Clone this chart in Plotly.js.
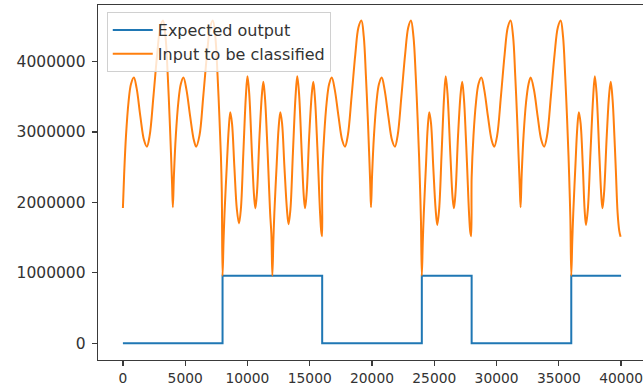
<!DOCTYPE html>
<html>
<head>
<meta charset="utf-8">
<script src="https://cdn.plot.ly/plotly-3.0.1.min.js"></script>
<style>
html, body { margin: 0; padding: 0; overflow: hidden; background: #fff; }
#chart { width: 660px; height: 388px; }
</style>
</head>
<body>
<div id="chart"></div>
<script>
// Expected output (step signal)
const stepX = [0, 8000, 16000, 24000, 28000, 36000, 40000];
const stepY = [0, 960000, 0, 960000, 0, 960000, 960000];

// Input to be classified
const inputX = [
  0,100,250,450,650,880,1100,1400,1700,1925,2150,2450,2750,3000,3220,3420,3600,3750,3870,3950,4010,
  4100,4250,4450,4650,4860,5100,5400,5700,5880,6150,6450,6750,7000,7220,7420,7600,7750,7870,7940,8000,
  8080,8160,8350,8500,8620,8760,8950,9150,9320,9470,9670,9870,10000,10140,10370,10540,10640,10770,10970,11170,11280,11420,11560,11680,11820,11920,12000,
  12080,12160,12350,12500,12640,12780,12970,13170,13300,13450,13650,13860,14000,14140,14370,14530,14630,14760,14960,15170,15290,15430,15570,15690,15830,15930,15990,
  16000,16160,16360,16560,16770,17010,17310,17610,17830,18060,18360,18660,18910,19150,19340,19510,19660,19780,19860,19920,
  20010,20160,20360,20560,20780,21010,21310,21610,21840,22060,22360,22660,22910,23130,23330,23510,23660,23780,23860,23930,24000,
  24080,24160,24340,24470,24600,24740,24920,25110,25240,25390,25590,25790,25920,26060,26300,26470,26580,26710,26910,27120,27245,27390,27530,27650,27790,27890,27960,
  28000,28150,28350,28550,28780,29010,29310,29610,29815,30050,30350,30650,30900,31130,31330,31500,31650,31770,31860,31930,
  32020,32170,32370,32570,32740,33000,33300,33600,33820,34060,34360,34660,34920,35150,35340,35510,35660,35780,35860,35930,36000,
  36080,36160,36340,36480,36610,36750,36930,37070,37180,37330,37540,37760,37890,38030,38260,38420,38510,38640,38850,39050,39170,39320,39460,39580,39720,39850,39960
];
const inputY = [
  1920000,2400000,2950000,3420000,3680000,3770000,3620000,3220000,2880000,2790000,2950000,3500000,4100000,4480000,4580000,4350000,3800000,3200000,2650000,2250000,1930000,
  2400000,2950000,3420000,3680000,3770000,3600000,3220000,2880000,2790000,2950000,3500000,4100000,4480000,4580000,4350000,3800000,3200000,2650000,2150000,960000,
  1450000,1850000,2550000,3050000,3280000,3120000,2500000,1900000,1700000,1900000,2700000,3500000,3790000,3550000,2650000,2070000,1915000,2150000,2950000,3550000,3710000,3450000,2950000,2450000,1850000,1550000,960000,
  1450000,1850000,2550000,3050000,3280000,3120000,2500000,1900000,1690000,1900000,2700000,3500000,3790000,3550000,2650000,2070000,1915000,2150000,2950000,3550000,3710000,3450000,2950000,2450000,1850000,1580000,1520000,
  2350000,2950000,3420000,3680000,3770000,3600000,3220000,2880000,2790000,2950000,3500000,4100000,4480000,4580000,4350000,3800000,3200000,2650000,2250000,1930000,
  2400000,2950000,3420000,3680000,3770000,3600000,3220000,2880000,2790000,2950000,3500000,4100000,4480000,4580000,4350000,3800000,3200000,2650000,2200000,1750000,960000,
  1450000,1850000,2550000,3050000,3280000,3120000,2500000,1900000,1680000,1900000,2700000,3500000,3790000,3550000,2650000,2070000,1915000,2150000,2950000,3550000,3710000,3450000,2950000,2450000,1850000,1580000,1520000,
  2350000,2950000,3420000,3680000,3770000,3600000,3220000,2880000,2790000,2950000,3500000,4100000,4480000,4580000,4350000,3800000,3200000,2650000,2250000,1930000,
  2400000,2950000,3420000,3680000,3770000,3600000,3220000,2880000,2790000,2950000,3500000,4100000,4480000,4580000,4350000,3800000,3200000,2650000,2200000,1750000,960000,
  1450000,1850000,2550000,3050000,3280000,3120000,2500000,1900000,1680000,1900000,2700000,3500000,3790000,3550000,2650000,2070000,1915000,2150000,2950000,3550000,3710000,3450000,2950000,2450000,1850000,1600000,1510000
];

const xTickVals = [0, 5000, 10000, 15000, 20000, 25000, 30000, 35000, 40000];
const xTickText = ["0", "5000", "10000", "15000", "20000", "25000", "30000", "35000", "40000"];
const yTickVals = [0, 1000000, 2000000, 3000000, 4000000];
const yTickText = ["0", "1000000", "2000000", "3000000", "4000000"];

const seriesNames = ["Expected output", "Input to be classified"];

const traces = [
  {
    x: stepX, y: stepY, name: seriesNames[0], type: "scatter", mode: "lines",
    line: { color: "#1f77b4", width: 2, shape: "hv" }
  },
  {
    x: inputX, y: inputY, name: seriesNames[1], type: "scatter", mode: "lines",
    line: { color: "#ff7f0e", width: 2, shape: "spline", smoothing: 1 }
  }
];

const axisCommon = {
  showgrid: false, zeroline: false, showline: true, mirror: true,
  linecolor: "#3a3a3a", linewidth: 1.3,
  ticks: "outside", ticklen: 5, tickwidth: 1.3, tickcolor: "#3a3a3a"
};

const layout = {
  width: 660, height: 388,
  margin: { l: 98, r: 14, t: 5, b: 28 },
  paper_bgcolor: "#fff", plot_bgcolor: "#fff",
  font: { family: "DejaVu Sans", size: 15.5, color: "#333" },
  xaxis: Object.assign({}, axisCommon, {
    range: [-2000, 42000], tickmode: "array", tickvals: xTickVals, ticktext: xTickText,
    tickfont: { family: "DejaVu Sans", size: 13.8, color: "#333" }
  }),
  yaxis: Object.assign({}, axisCommon, {
    range: [-237000, 4800000], tickmode: "array", tickvals: yTickVals, ticktext: yTickText,
    ticklabelstandoff: 3,
    tickfont: { family: "DejaVu Sans", size: 15.5, color: "#333" }
  }),
  showlegend: true,
  legend: {
    x: 0.016, y: 0.98, xanchor: "left", yanchor: "top",
    bgcolor: "rgba(255,255,255,0.8)", bordercolor: "#d0d0d0", borderwidth: 1,
    font: { family: "DejaVu Sans", size: 16, color: "#333" },
    itemwidth: 40, tracegroupgap: 0
  }
};

Plotly.newPlot("chart", traces, layout, { displayModeBar: false, staticPlot: true });
</script>
</body>
</html>
